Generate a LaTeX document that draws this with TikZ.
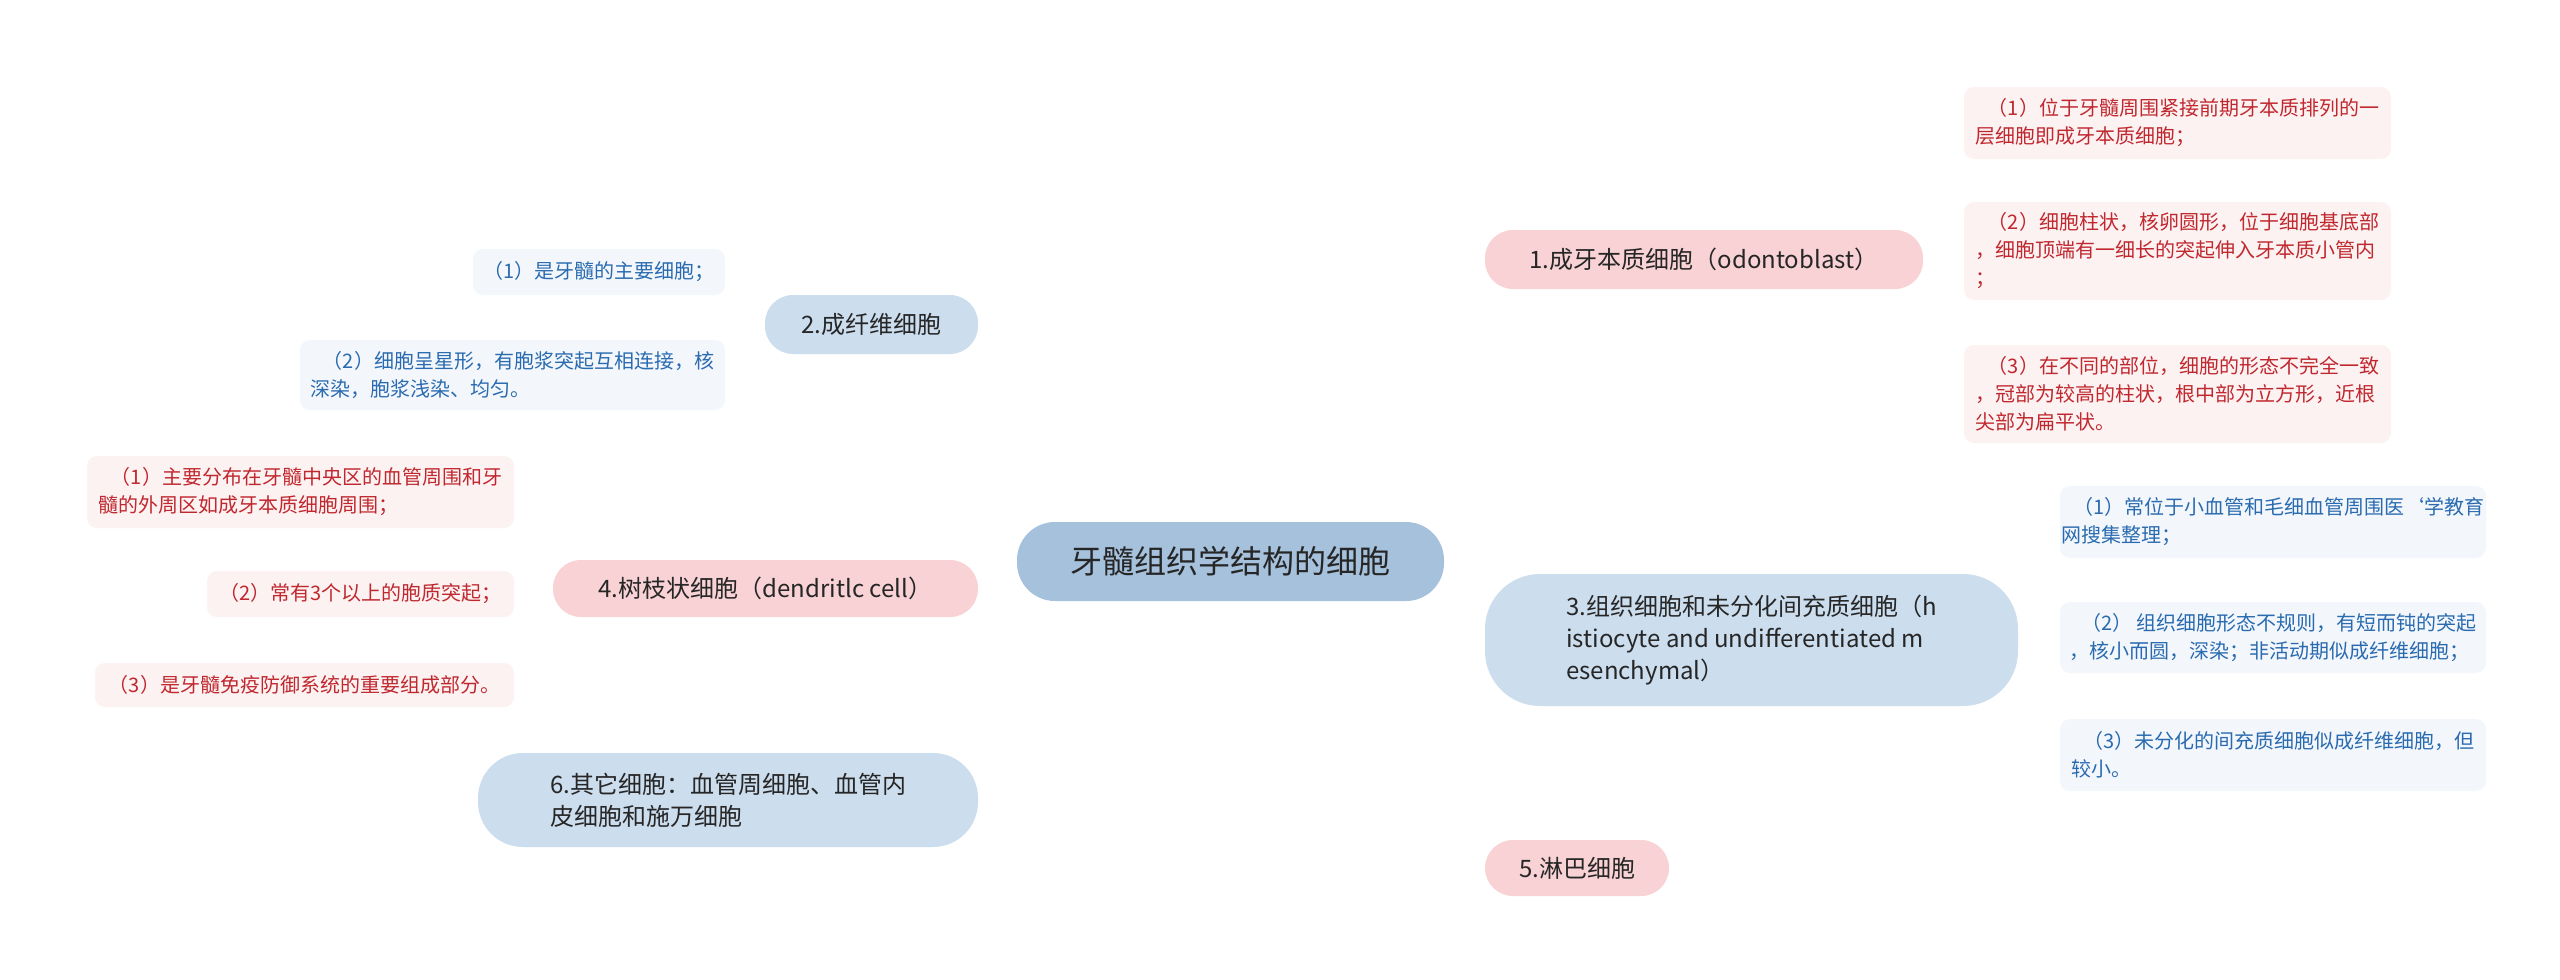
\documentclass[tikz,border=0pt]{standalone}
\usepackage{fontspec}
\setmainfont{Noto Sans CJK SC}
\usetikzlibrary{backgrounds}
\definecolor{pk}{HTML}{F8D2D4}
\definecolor{bl}{HTML}{CCDDEE}
\definecolor{rt}{HTML}{A5C1DC}
\definecolor{pkl}{HTML}{FDF2F2}
\definecolor{bll}{HTML}{F3F7FC}
\definecolor{pkt}{HTML}{C0282F}
\definecolor{blt}{HTML}{2A6BB0}
\definecolor{pkc}{HTML}{F0C4C6}
\definecolor{blc}{HTML}{C6D7E8}
\tikzset{
 box/.style={rounded corners=#1, inner sep=0pt, anchor=north west},
 mid/.style={font=\fontsize{24}{32}\selectfont, text=black!85, align=left},
 leaf/.style={font=\fontsize{20}{28}\selectfont, align=left},
 pc/.style={draw=pkc, line width=2.2pt},
 bc/.style={draw=blc, line width=2.2pt},
}
\newcommand{\bx}[7]{% name, x1,y1,x2,y2, fill, radius
 \path[fill=#6, rounded corners=#7] (#2,#3) rectangle (#4,#5);
 \coordinate (#1-w) at (#2,{(#3+#5)/2});
 \coordinate (#1-e) at (#4,{(#3+#5)/2});
 \coordinate (#1-c) at ({(#2+#4)/2},{(#3+#5)/2});}
\begin{document}
\begin{tikzpicture}[x=1pt,y=-1pt]
\useasboundingbox (0,0) rectangle (2560,980);
\fill[white] (0,0) rectangle (2560,980);
% root
\bx{r}{1017}{522}{1444}{601}{rt}{38}
\node[font=\fontsize{32}{40}\selectfont, text=black!85] (root) at (r-c) {牙髓组织学结构的细胞};
% level 1 boxes
\bx{a}{1485}{230}{1923}{289}{pk}{28}
\node[mid] (n1) at (a-c) {1.成牙本质细胞（odontoblast）};
\bx{b}{765}{295}{978}{354}{bl}{28}
\node[mid] (n2) at (b-c) {2.成纤维细胞};
\bx{c}{1485}{574}{2018}{706}{bl}{55}
\node[mid] (n3) at (c-c) {3.组织细胞和未分化间充质细胞（h\\istiocyte and undifferentiated m\\esenchymal）};
\bx{d}{553}{560}{978}{617}{pk}{28}
\node[mid] (n4) at (d-c) {4.树枝状细胞（dendritlc cell）};
\bx{e}{1485}{840}{1669}{896}{pk}{28}
\node[mid] (n5) at (e-c) {5.淋巴细胞};
\bx{f}{478}{753}{978}{847}{bl}{45}
\node[mid] (n6) at (f-c) {6.其它细胞：血管周细胞、血管内\\皮细胞和施万细胞};
% leaves
\bx{a1}{1964}{87}{2391}{159}{pkl}{10}
\node[leaf,text=pkt] (l11) at (a1-c) {\hspace*{0.6em}（1）位于牙髓周围紧接前期牙本质排列的一\\层细胞即成牙本质细胞；};
\bx{a2}{1964}{202}{2391}{300}{pkl}{10}
\node[leaf,text=pkt] (l12) at (a2-c) {\hspace*{0.6em}（2）细胞柱状，核卵圆形，位于细胞基底部\\，细胞顶端有一细长的突起伸入牙本质小管内\\；};
\bx{a3}{1964}{345}{2391}{443}{pkl}{10}
\node[leaf,text=pkt] (l13) at (a3-c) {\hspace*{0.6em}（3）在不同的部位，细胞的形态不完全一致\\，冠部为较高的柱状，根中部为立方形，近根\\尖部为扁平状。};
\bx{b1}{473}{249}{725}{295}{bll}{10}
\node[leaf,text=blt] (l21) at (b1-c) {（1）是牙髓的主要细胞；};
\bx{b2}{300}{340}{725}{410}{bll}{10}
\node[leaf,text=blt] (l22) at (b2-c) {\hspace*{0.6em}（2）细胞呈星形，有胞浆突起互相连接，核\\深染，胞浆浅染、均匀。};
\bx{c1}{2060}{486}{2486}{558}{bll}{10}
\node[leaf,text=blt] (l31) at (c1-c) {\hspace*{0.6em}（1）常位于小血管和毛细血管周围医`学教育\\网搜集整理；};
\bx{c2}{2060}{602}{2486}{673}{bll}{10}
\node[leaf,text=blt] (l32) at (c2-c) {\hspace*{0.6em}（2） 组织细胞形态不规则，有短而钝的突起\\，核小而圆，深染；非活动期似成纤维细胞；};
\bx{c3}{2060}{719}{2486}{791}{bll}{10}
\node[leaf,text=blt] (l33) at (c3-c) {\hspace*{0.6em}（3）未分化的间充质细胞似成纤维细胞，但\\较小。};
\bx{d1}{87}{456}{514}{528}{pkl}{10}
\node[leaf,text=pkt] (l41) at (d1-c) {\hspace*{0.6em}（1）主要分布在牙髓中央区的血管周围和牙\\髓的外周区如成牙本质细胞周围；};
\bx{d2}{207}{571}{514}{617}{pkl}{10}
\node[leaf,text=pkt] (l42) at (d2-c) {（2）常有3个以上的胞质突起；};
\bx{d3}{95}{663}{514}{707}{pkl}{10}
\node[leaf,text=pkt] (l43) at (d3-c) {（3）是牙髓免疫防御系统的重要组成部分。};
\begin{scope}[on background layer]
 \coordinate (rt) at (1231,530);
 \coordinate (rb) at (1231,595);
 \draw[pc] (rt) .. controls (1231,300) and (1300,259) .. (a-w);
 \draw[bc] (rt) .. controls (1231,380) and (1150,325) .. (b-e);
 \draw[bc] (rb) .. controls (1250,630) and (1400,640) .. (c-w);
 \draw[pc] (rb) .. controls (1231,800) and (1300,868) .. (e-w);
 \draw[bc] (rb) .. controls (1231,740) and (1150,800) .. (f-e);
 \draw[pc] (r-w) .. controls (1000,561) and (1000,588) .. (d-e);
 % branches node1
 \draw[pc] (a-e) -- ++(22,0) coordinate (a-j);
 \draw[pc] (a-j) .. controls (1945,123) .. (a1-w);
 \draw[pc] (a-j) -- (a2-w);
 \draw[pc] (a-j) .. controls (1945,394) .. (a3-w);
 % node2
 \draw[bc] (b-w) -- ++(-22,0) coordinate (b-j);
 \draw[bc] (b-j) .. controls (745,272) .. (b1-e);
 \draw[bc] (b-j) .. controls (745,375) .. (b2-e);
 % node3
 \draw[bc] (c-e) -- ++(22,0) coordinate (c-j);
 \draw[bc] (c-j) .. controls (2040,522) .. (c1-w);
 \draw[bc] (c-j) -- (c2-w);
 \draw[bc] (c-j) .. controls (2040,755) .. (c3-w);
 % node4
 \draw[pc] (d-w) -- ++(-22,0) coordinate (d-j);
 \draw[pc] (d-j) .. controls (531,492) .. (d1-e);
 \draw[pc] (d-j) -- (d2-e);
 \draw[pc] (d-j) .. controls (531,685) .. (d3-e);
\end{scope}
\end{tikzpicture}
\end{document}
